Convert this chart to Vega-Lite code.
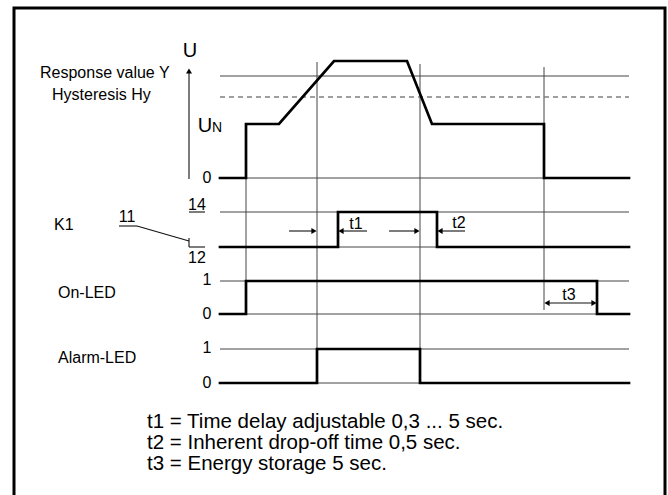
{
  "$schema": "https://vega.github.io/schema/vega-lite/v6.json",
  "width": 668,
  "height": 495,
  "padding": 0,
  "autosize": {"type": "none"},
  "background": "white",
  "config": {"view": {"stroke": null}, "text": {"font": "Liberation Sans", "color": "black"}},
  "datasets": {
    "frame": [{"x": 14, "y": 8, "x2": 665, "y2": 530}],
    "grid": [
      {"x": 220, "y": 76, "x2": 629, "y2": 76},
      {"x": 220, "y": 178, "x2": 629, "y2": 178},
      {"x": 220, "y": 212, "x2": 629, "y2": 212},
      {"x": 220, "y": 247, "x2": 629, "y2": 247},
      {"x": 220, "y": 281, "x2": 629, "y2": 281},
      {"x": 220, "y": 314, "x2": 629, "y2": 314},
      {"x": 220, "y": 349, "x2": 629, "y2": 349},
      {"x": 220, "y": 383, "x2": 629, "y2": 383},
      {"x": 246, "y": 178, "x2": 246, "y2": 314},
      {"x": 317, "y": 62, "x2": 317, "y2": 383},
      {"x": 420, "y": 64, "x2": 420, "y2": 383},
      {"x": 544, "y": 67, "x2": 544, "y2": 310}
    ],
    "hyst": [{"x": 220, "y": 97, "x2": 629, "y2": 97}],
    "strokes": [
      {"x": 189, "y": 179, "x2": 189, "y2": 72},
      {"x": 189, "y": 212, "x2": 205, "y2": 212},
      {"x": 119, "y": 226, "x2": 137, "y2": 226},
      {"x": 137, "y": 226, "x2": 189, "y2": 241},
      {"x": 189, "y": 238, "x2": 189, "y2": 247},
      {"x": 189, "y": 247, "x2": 205, "y2": 247},
      {"x": 289, "y": 231, "x2": 314, "y2": 231},
      {"x": 341, "y": 231, "x2": 367, "y2": 231},
      {"x": 389, "y": 231, "x2": 417, "y2": 231},
      {"x": 440, "y": 231, "x2": 465, "y2": 231},
      {"x": 547, "y": 303, "x2": 594, "y2": 303}
    ],
    "heads": [
      {"x": 314, "y": 231, "dir": "right"},
      {"x": 417, "y": 231, "dir": "right"},
      {"x": 594, "y": 303, "dir": "right"},
      {"x": 341, "y": 231, "dir": "left"},
      {"x": 440, "y": 231, "dir": "left"},
      {"x": 547, "y": 303, "dir": "left"},
      {"x": 189, "y": 71, "dir": "up"}
    ],
    "signals": [
      {"s": "U", "i": 0, "x": 220, "y": 178},
      {"s": "U", "i": 1, "x": 246, "y": 178},
      {"s": "U", "i": 2, "x": 246, "y": 124},
      {"s": "U", "i": 3, "x": 279, "y": 124},
      {"s": "U", "i": 4, "x": 334, "y": 61},
      {"s": "U", "i": 5, "x": 407, "y": 61},
      {"s": "U", "i": 6, "x": 432, "y": 124},
      {"s": "U", "i": 7, "x": 544, "y": 124},
      {"s": "U", "i": 8, "x": 544, "y": 178},
      {"s": "U", "i": 9, "x": 629, "y": 178},
      {"s": "K1", "i": 0, "x": 220, "y": 247},
      {"s": "K1", "i": 1, "x": 338, "y": 247},
      {"s": "K1", "i": 2, "x": 338, "y": 212},
      {"s": "K1", "i": 3, "x": 437, "y": 212},
      {"s": "K1", "i": 4, "x": 437, "y": 247},
      {"s": "K1", "i": 5, "x": 629, "y": 247},
      {"s": "On", "i": 0, "x": 220, "y": 314},
      {"s": "On", "i": 1, "x": 246, "y": 314},
      {"s": "On", "i": 2, "x": 246, "y": 281},
      {"s": "On", "i": 3, "x": 597, "y": 281},
      {"s": "On", "i": 4, "x": 597, "y": 314},
      {"s": "On", "i": 5, "x": 629, "y": 314},
      {"s": "Alarm", "i": 0, "x": 220, "y": 383},
      {"s": "Alarm", "i": 1, "x": 317, "y": 383},
      {"s": "Alarm", "i": 2, "x": 317, "y": 349},
      {"s": "Alarm", "i": 3, "x": 420, "y": 349},
      {"s": "Alarm", "i": 4, "x": 420, "y": 383},
      {"s": "Alarm", "i": 5, "x": 629, "y": 383}
    ],
    "leftLabels": [
      {"x": 40, "y": 78, "label": "Response value Y"},
      {"x": 52, "y": 100, "label": "Hysteresis Hy"},
      {"x": 54, "y": 230, "label": "K1"},
      {"x": 58, "y": 298, "label": "On-LED"},
      {"x": 58, "y": 363, "label": "Alarm-LED"}
    ],
    "levelLabels": [
      {"x": 207, "y": 183, "label": "0"},
      {"x": 197, "y": 210, "label": "14"},
      {"x": 127, "y": 222, "label": "11"},
      {"x": 197, "y": 263, "label": "12"},
      {"x": 207, "y": 285, "label": "1"},
      {"x": 207, "y": 319, "label": "0"},
      {"x": 207, "y": 353, "label": "1"},
      {"x": 207, "y": 388, "label": "0"},
      {"x": 356, "y": 229, "label": "t1"},
      {"x": 459, "y": 228, "label": "t2"},
      {"x": 569, "y": 300, "label": "t3"}
    ],
    "bigU": [
      {"x": 190, "y": 57, "label": "U"},
      {"x": 205, "y": 132, "label": "U"}
    ],
    "subN": [{"x": 212, "y": 132, "label": "N"}],
    "notes": [
      {"x": 147, "y": 428, "label": "t1 = Time delay adjustable 0,3 ... 5 sec."},
      {"x": 147, "y": 449, "label": "t2 = Inherent drop-off time 0,5 sec."},
      {"x": 147, "y": 470, "label": "t3 = Energy storage 5 sec."}
    ]
  },
  "encoding": {
    "x": {"field": "x", "type": "quantitative", "scale": {"domain": [0, 668], "nice": false, "zero": false}, "axis": null},
    "y": {"field": "y", "type": "quantitative", "scale": {"domain": [0, 495], "nice": false, "zero": false, "reverse": true}, "axis": null}
  },
  "layer": [
    {
      "data": {"name": "frame"},
      "mark": {"type": "rect", "fill": "transparent", "stroke": "black", "strokeWidth": 3},
      "encoding": {"x2": {"field": "x2"}, "y2": {"field": "y2"}}
    },
    {
      "data": {"name": "grid"},
      "mark": {"type": "rule", "stroke": "#444444", "strokeWidth": 1},
      "encoding": {"x2": {"field": "x2"}, "y2": {"field": "y2"}}
    },
    {
      "data": {"name": "hyst"},
      "mark": {"type": "rule", "stroke": "#808080", "strokeWidth": 1.5, "strokeDash": [5, 4]},
      "encoding": {"x2": {"field": "x2"}, "y2": {"field": "y2"}}
    },
    {
      "data": {"name": "strokes"},
      "mark": {"type": "rule", "stroke": "#111111", "strokeWidth": 1.1},
      "encoding": {"x2": {"field": "x2"}, "y2": {"field": "y2"}}
    },
    {
      "data": {"name": "heads"},
      "mark": {"type": "point", "filled": true, "color": "black", "size": 36, "opacity": 1},
      "encoding": {
        "shape": {"field": "dir", "type": "nominal", "scale": {"domain": ["right", "left", "up"], "range": ["triangle-right", "triangle-left", "triangle-up"]}, "legend": null}
      }
    },
    {
      "data": {"name": "signals"},
      "mark": {"type": "line", "color": "black", "strokeWidth": 2.7, "strokeJoin": "miter", "strokeCap": "square"},
      "encoding": {"detail": {"field": "s"}, "order": {"field": "i", "type": "quantitative"}}
    },
    {
      "data": {"name": "leftLabels"},
      "mark": {"type": "text", "align": "left", "baseline": "alphabetic", "fontSize": 16},
      "encoding": {"text": {"field": "label"}}
    },
    {
      "data": {"name": "levelLabels"},
      "mark": {"type": "text", "align": "center", "baseline": "alphabetic", "fontSize": 16},
      "encoding": {"text": {"field": "label"}}
    },
    {
      "data": {"name": "bigU"},
      "mark": {"type": "text", "align": "center", "baseline": "alphabetic", "fontSize": 20},
      "encoding": {"text": {"field": "label"}}
    },
    {
      "data": {"name": "subN"},
      "mark": {"type": "text", "align": "left", "baseline": "alphabetic", "fontSize": 14},
      "encoding": {"text": {"field": "label"}}
    },
    {
      "data": {"name": "notes"},
      "mark": {"type": "text", "align": "left", "baseline": "alphabetic", "fontSize": 20.5},
      "encoding": {"text": {"field": "label"}}
    }
  ]
}
